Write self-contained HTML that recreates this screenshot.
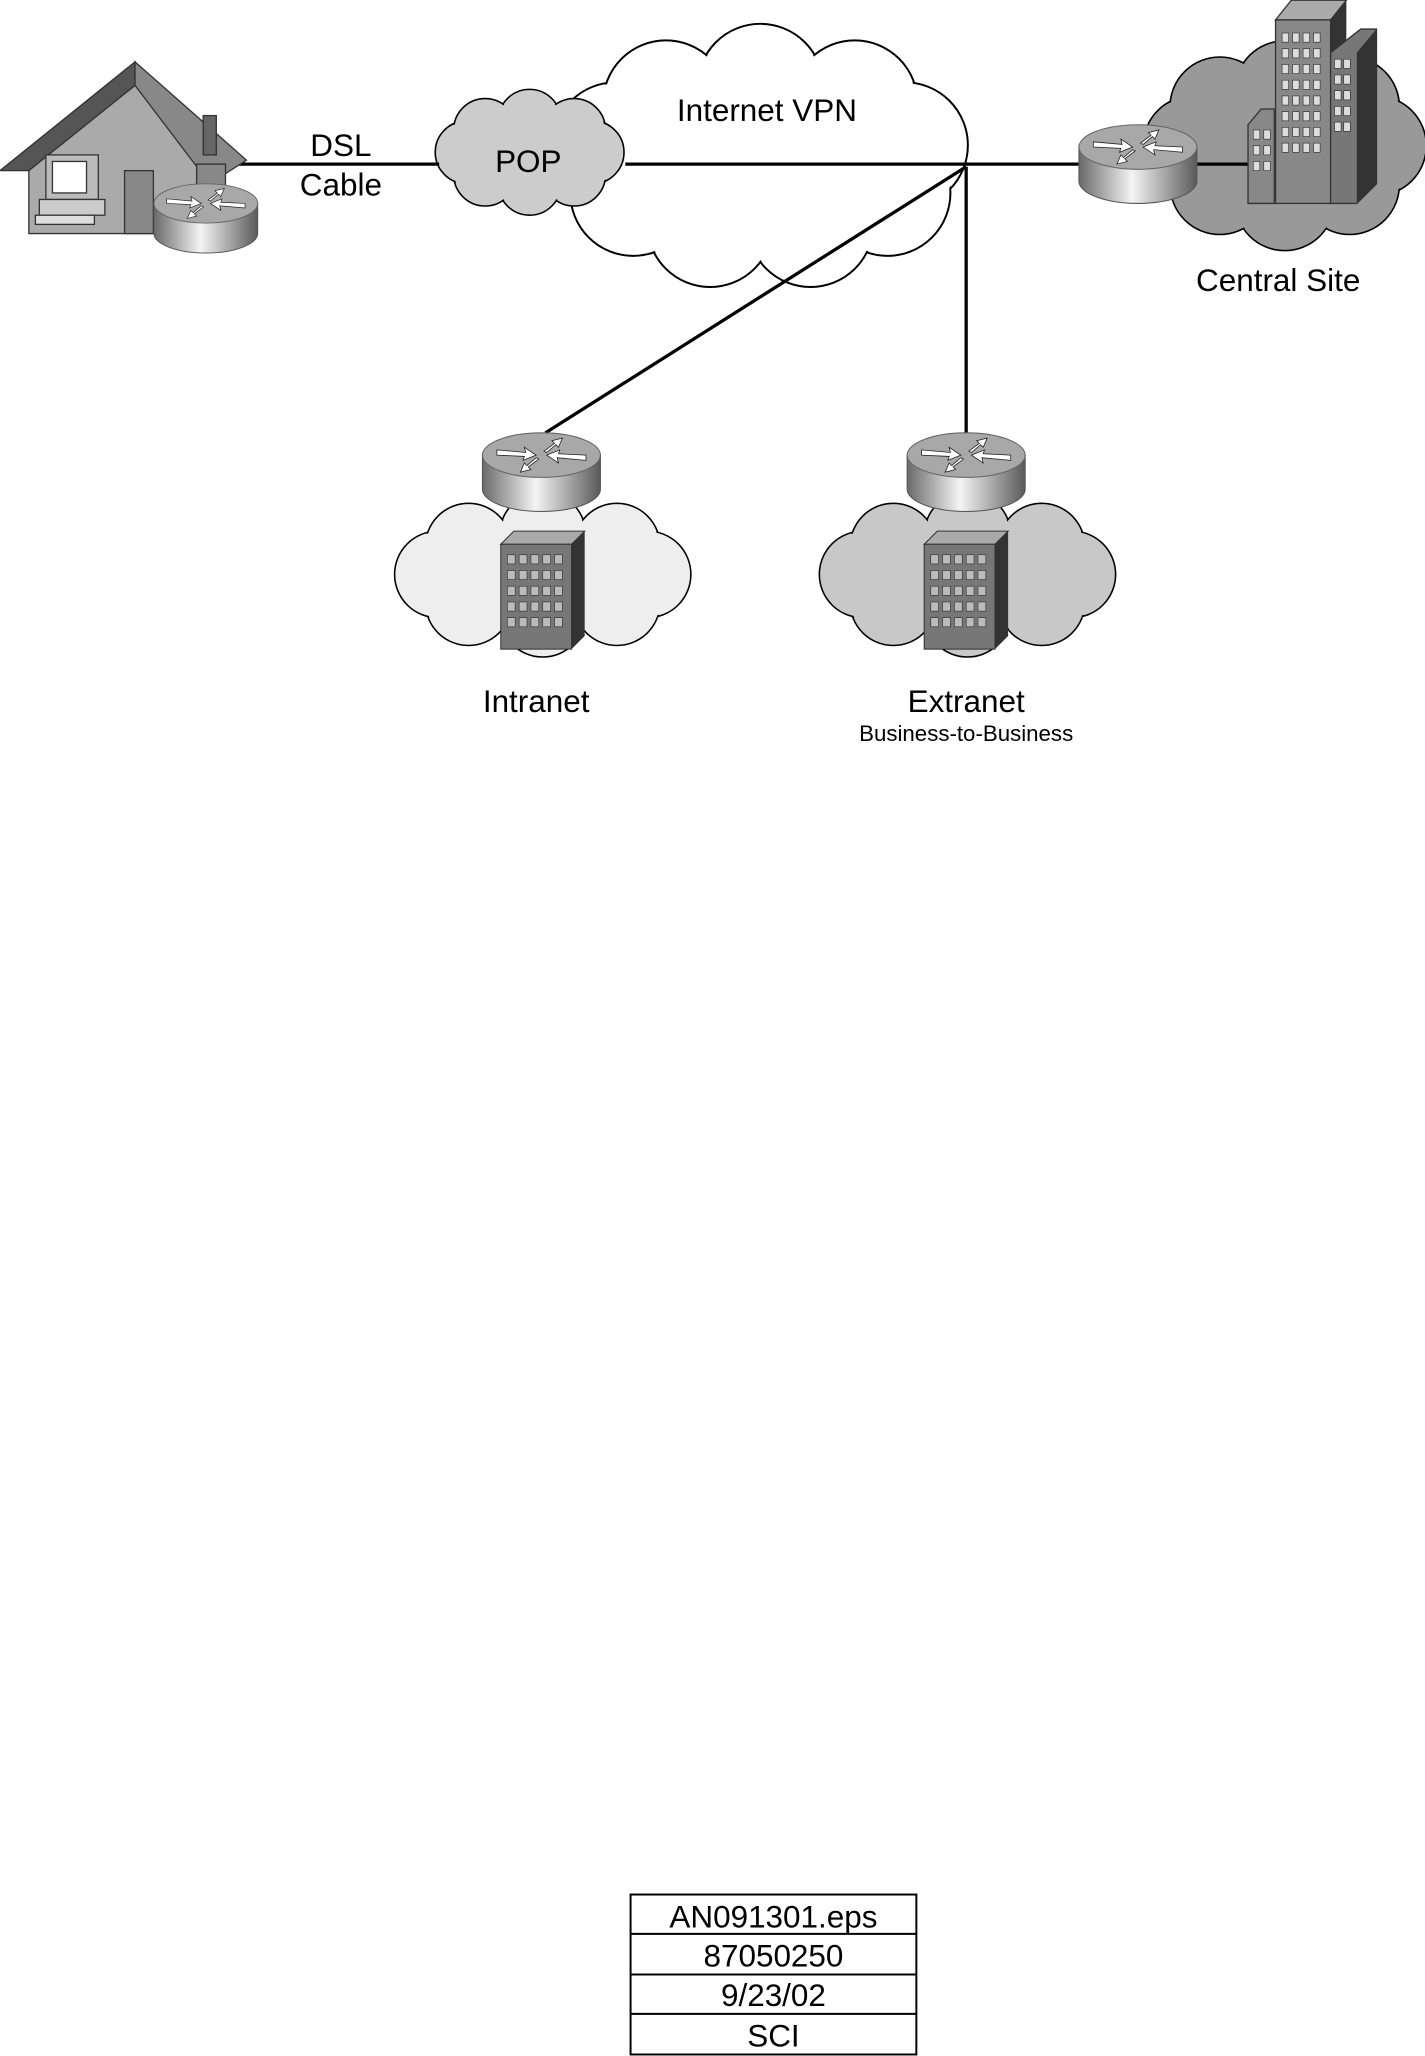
<!DOCTYPE html>
<html><head><style>html,body{margin:0;padding:0;background:#fff}svg{display:block}</style></head>
<body>
<svg id="s" width="1425" height="2056" viewBox="0 0 1087 1568" xmlns="http://www.w3.org/2000/svg" font-family="Liberation Sans, sans-serif">
<defs>
<linearGradient id="cyl" x1="0" x2="1" y1="0" y2="0">
<stop offset="0" stop-color="#6a6a6a"/><stop offset="0.45" stop-color="#f4f4f4"/><stop offset="1" stop-color="#5a5a5a"/>
</linearGradient>
<g id="router">
<path d="M-45,0 L-45,26 A45,17 0 0 0 45,26 L45,0 Z" fill="url(#cyl)" stroke="#555" stroke-width="0.8"/>
<ellipse cx="0" cy="0" rx="45" ry="17" fill="#a8a8a8" stroke="#666" stroke-width="0.8"/>
<g fill="#fff" stroke="#222" stroke-width="0.6">
<path d="M-34,-4 L-12,-2 L-13,-6 L-4,0 L-14,4 L-13,1 L-34,0 Z"/>
<path d="M34,4 L12,2 L13,6 L4,0 L14,-4 L13,-1 L34,0 Z"/>
<path d="M2,-3 L10,-9 L8,-11 L16,-13 L13,-6 L11,-8 L4,-2 Z"/>
<path d="M-2,3 L-10,9 L-8,11 L-16,13 L-13,6 L-11,8 L-4,2 Z"/>
</g>
</g>
<g id="bldg">
<polygon points="0,10 10,0 64,0 54,10" fill="#aaa" stroke="#333" stroke-width="0.8"/>
<polygon points="54,10 64,0 64,80 54,90" fill="#333"/>
<rect x="0" y="10" width="54" height="80" fill="#777" stroke="#333" stroke-width="0.8"/>
<g fill="#bbb" stroke="#333" stroke-width="0.5">
<rect x="5" y="18" width="6" height="7"/><rect x="14" y="18" width="6" height="7"/><rect x="23" y="18" width="6" height="7"/><rect x="32" y="18" width="6" height="7"/><rect x="41" y="18" width="6" height="7"/>
<rect x="5" y="30" width="6" height="7"/><rect x="14" y="30" width="6" height="7"/><rect x="23" y="30" width="6" height="7"/><rect x="32" y="30" width="6" height="7"/><rect x="41" y="30" width="6" height="7"/>
<rect x="5" y="42" width="6" height="7"/><rect x="14" y="42" width="6" height="7"/><rect x="23" y="42" width="6" height="7"/><rect x="32" y="42" width="6" height="7"/><rect x="41" y="42" width="6" height="7"/>
<rect x="5" y="54" width="6" height="7"/><rect x="14" y="54" width="6" height="7"/><rect x="23" y="54" width="6" height="7"/><rect x="32" y="54" width="6" height="7"/><rect x="41" y="54" width="6" height="7"/>
<rect x="5" y="66" width="6" height="7"/><rect x="14" y="66" width="6" height="7"/><rect x="23" y="66" width="6" height="7"/><rect x="32" y="66" width="6" height="7"/><rect x="41" y="66" width="6" height="7"/>
</g>
</g>
</defs>

<g id="clouds"></g>

<!-- lines -->
<g stroke="#000" stroke-width="2.5">
<line x1="172" y1="125" x2="335" y2="125"/>
<line x1="477" y1="125" x2="830" y2="125"/>
<line x1="910" y1="125" x2="955" y2="125"/>
<line x1="737" y1="127" x2="416" y2="330"/>
<line x1="737" y1="127" x2="737" y2="332"/>
</g>

<!-- Central buildings -->
<polygon points="973,15 985,0 1027,0 1015,15" fill="#aaa" stroke="#333"/>
<polygon points="1015,15 1027,0 1027,155 1015,155" fill="#333"/>
<rect x="973" y="15" width="42" height="140" fill="#888" stroke="#333"/>
<polygon points="1015,40 1038,22 1050,22 1050,140 1035,155 1015,155" fill="#777" stroke="#333"/>
<polygon points="1035,40 1050,22 1050,140 1035,155" fill="#333"/>
<polygon points="952,95 962,83 972,83 972,155 952,155" fill="#888" stroke="#333"/>
<g fill="#ddd" stroke="#333" stroke-width="0.5">
<rect x="978" y="25" width="5" height="7"/><rect x="986" y="25" width="5" height="7"/><rect x="994" y="25" width="5" height="7"/><rect x="1002" y="25" width="5" height="7"/>
<rect x="978" y="37" width="5" height="7"/><rect x="986" y="37" width="5" height="7"/><rect x="994" y="37" width="5" height="7"/><rect x="1002" y="37" width="5" height="7"/>
<rect x="978" y="49" width="5" height="7"/><rect x="986" y="49" width="5" height="7"/><rect x="994" y="49" width="5" height="7"/><rect x="1002" y="49" width="5" height="7"/>
<rect x="978" y="61" width="5" height="7"/><rect x="986" y="61" width="5" height="7"/><rect x="994" y="61" width="5" height="7"/><rect x="1002" y="61" width="5" height="7"/>
<rect x="978" y="73" width="5" height="7"/><rect x="986" y="73" width="5" height="7"/><rect x="994" y="73" width="5" height="7"/><rect x="1002" y="73" width="5" height="7"/>
<rect x="978" y="85" width="5" height="7"/><rect x="986" y="85" width="5" height="7"/><rect x="994" y="85" width="5" height="7"/><rect x="1002" y="85" width="5" height="7"/>
<rect x="978" y="97" width="5" height="7"/><rect x="986" y="97" width="5" height="7"/><rect x="994" y="97" width="5" height="7"/><rect x="1002" y="97" width="5" height="7"/>
<rect x="978" y="109" width="5" height="7"/><rect x="986" y="109" width="5" height="7"/><rect x="994" y="109" width="5" height="7"/><rect x="1002" y="109" width="5" height="7"/>
<rect x="1018" y="45" width="5" height="7"/><rect x="1025" y="45" width="5" height="7"/><rect x="1018" y="57" width="5" height="7"/><rect x="1025" y="57" width="5" height="7"/>
<rect x="1018" y="69" width="5" height="7"/><rect x="1025" y="69" width="5" height="7"/><rect x="1018" y="81" width="5" height="7"/><rect x="1025" y="81" width="5" height="7"/>
<rect x="1018" y="93" width="5" height="7"/><rect x="1025" y="93" width="5" height="7"/>
<rect x="956" y="99" width="5" height="7"/><rect x="964" y="99" width="5" height="7"/><rect x="956" y="111" width="5" height="7"/><rect x="964" y="111" width="5" height="7"/>
<rect x="956" y="123" width="5" height="7"/><rect x="964" y="123" width="5" height="7"/>
</g>

<!-- House -->
<polygon points="103,47 0,130 22,130 103,65" fill="#555" stroke="#333"/>
<polygon points="22,130 103,65 150,110 150,178 22,178" fill="#aaa" stroke="#333"/>
<polygon points="103,47 188,122 160,140 103,65" fill="#888" stroke="#333"/>
<rect x="155" y="88" width="10" height="30" fill="#666" stroke="#333"/>
<rect x="150" y="125" width="22" height="53" fill="#888" stroke="#333"/>
<rect x="95" y="130" width="22" height="48" fill="#888" stroke="#333"/>
<rect x="35" y="118" width="40" height="34" fill="#bbb" stroke="#333"/>
<rect x="40" y="123" width="26" height="24" fill="#fff" stroke="#333"/>
<rect x="30" y="152" width="50" height="12" fill="#ccc" stroke="#333"/>
<rect x="27" y="164" width="45" height="7" fill="#ddd" stroke="#333"/>
<g transform="translate(157,155) scale(0.88)"><use href="#router"/></g>

<use href="#router" x="868" y="112"/>
<use href="#router" x="413" y="347"/>
<use href="#router" x="737" y="347"/>

<use href="#bldg" x="382" y="405"/>
<use href="#bldg" x="705" y="405"/>

<!-- labels -->
<g font-size="24" fill="#000" text-anchor="middle">
<text x="260" y="119">DSL</text>
<text x="260" y="149">Cable</text>
<text x="403" y="131">POP</text>
<text x="585" y="92">Internet VPN</text>
<text x="975" y="222">Central Site</text>
<text x="409" y="543">Intranet</text>
<text x="737" y="543">Extranet</text>
<text x="737" y="565" font-size="17">Business-to-Business</text>
</g>

<!-- table -->
<g stroke="#000" stroke-width="1.5" fill="none">
<rect x="481" y="1445" width="218" height="122"/>
<line x1="481" y1="1475" x2="699" y2="1475"/>
<line x1="481" y1="1506" x2="699" y2="1506"/>
<line x1="481" y1="1536" x2="699" y2="1536"/>
</g>
<g font-size="24" text-anchor="middle" fill="#000">
<text x="590" y="1470">AN091301.eps</text>
<text x="590" y="1500">87050250</text>
<text x="590" y="1530">9/23/02</text>
<text x="590" y="1561">SCI</text>
</g>
</svg>
<script>
(function(){
var NS="http://www.w3.org/2000/svg",g=document.getElementById("clouds");
function cloud(cx,cy,rx,ry,n,r,fill,sw){
  var pts=[];
  for(var i=0;i<n;i++){var a=-Math.PI/2+i*2*Math.PI/n;pts.push([cx+rx*Math.cos(a),cy+ry*Math.sin(a)]);}
  var s=document.createElementNS(NS,"g");
  pts.forEach(function(p){var c=document.createElementNS(NS,"circle");c.setAttribute("cx",p[0]);c.setAttribute("cy",p[1]);c.setAttribute("r",r);c.setAttribute("fill",fill);c.setAttribute("stroke","#000");c.setAttribute("stroke-width",sw);s.appendChild(c);});
  pts.forEach(function(p){var c=document.createElementNS(NS,"circle");c.setAttribute("cx",p[0]);c.setAttribute("cy",p[1]);c.setAttribute("r",r-sw/2-0.3);c.setAttribute("fill",fill);s.appendChild(c);});
  var e=document.createElementNS(NS,"ellipse");e.setAttribute("cx",cx);e.setAttribute("cy",cy);e.setAttribute("rx",rx+r*0.3);e.setAttribute("ry",ry+r*0.3);e.setAttribute("fill",fill);s.appendChild(e);
  g.appendChild(s);
}
cloud(580,120,112,54,9,48,"#fff",1.5);
cloud(404,116,48,24,8,24,"#ccc",1.2);
cloud(980,111,70,42,8,38,"#999",1.2);
cloud(414,438,80,30,8,33,"#eee",1.2);
cloud(738,438,80,30,8,33,"#c8c8c8",1.2);
})();
</script>
</body></html>
